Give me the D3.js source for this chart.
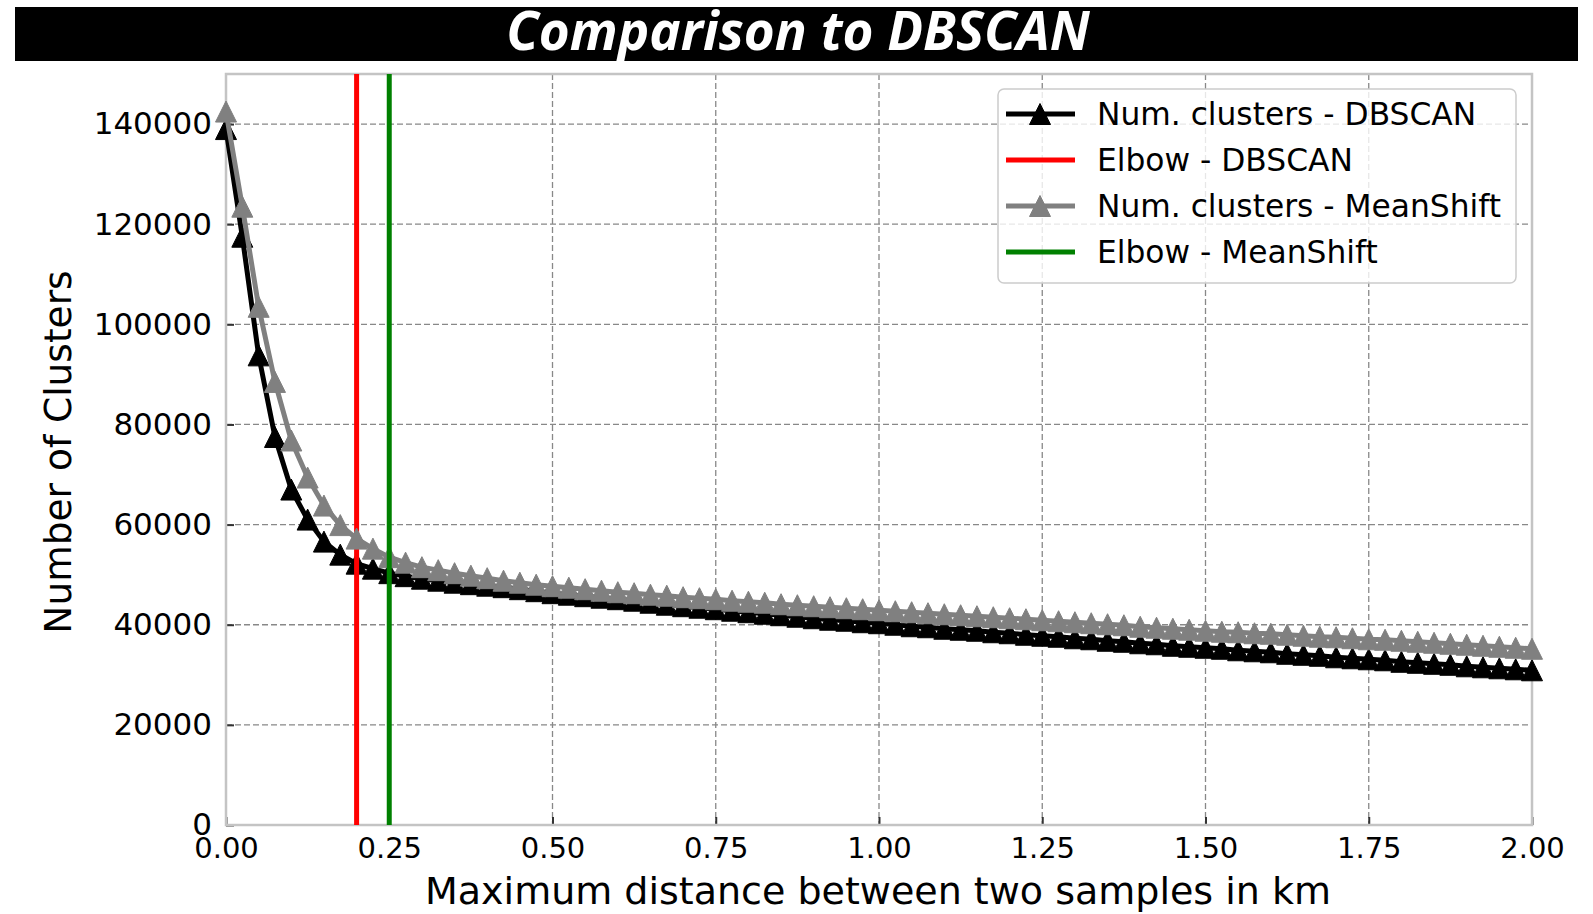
<!DOCTYPE html>
<html>
<head>
<meta charset="utf-8">
<script src="https://cdn.jsdelivr.net/npm/d3@7"></script>
<style>
  body { margin: 0; background: #fff; }
  svg text { font-family: "DejaVu Sans", sans-serif; fill: #000; }
</style>
</head>
<body>
<svg id="canvas" width="1593" height="914"></svg>
<script>
// max distance (km) for each run
const distances = [
    0.000, 0.025, 0.050, 0.075, 0.100, 0.125, 0.150, 0.175, 0.200, 0.225,
    0.250, 0.275, 0.300, 0.325, 0.350, 0.375, 0.400, 0.425, 0.450, 0.475,
    0.500, 0.525, 0.550, 0.575, 0.600, 0.625, 0.650, 0.675, 0.700, 0.725,
    0.750, 0.775, 0.800, 0.825, 0.850, 0.875, 0.900, 0.925, 0.950, 0.975,
    1.000, 1.025, 1.050, 1.075, 1.100, 1.125, 1.150, 1.175, 1.200, 1.225,
    1.250, 1.275, 1.300, 1.325, 1.350, 1.375, 1.400, 1.425, 1.450, 1.475,
    1.500, 1.525, 1.550, 1.575, 1.600, 1.625, 1.650, 1.675, 1.700, 1.725,
    1.750, 1.775, 1.800, 1.825, 1.850, 1.875, 1.900, 1.925, 1.950, 1.975,
    2.000
];

const dbscanClusters = [
    139000, 117500, 93800, 77500, 67000, 61000, 56600, 54000, 52200, 51200,
    50300, 49700, 49200, 48800, 48400, 48100, 47800, 47500, 47100, 46700,
    46300, 46000, 45700, 45400, 45100, 44800, 44400, 44000, 43700, 43400,
    43100, 42800, 42500, 42200, 41900, 41600, 41300, 41000, 40800, 40500,
    40300, 40000, 39700, 39500, 39200, 39000, 38800, 38500, 38300, 38000,
    37800, 37600, 37300, 37100, 36800, 36600, 36300, 36100, 35800, 35600,
    35400, 35200, 34900, 34700, 34500, 34200, 34000, 33800, 33500, 33300,
    33100, 32900, 32600, 32400, 32200, 32000, 31700, 31500, 31300, 31100,
    30900
];

const meanShiftClusters = [
    142500, 123500, 103500, 88500, 76800, 69400, 63800, 59900, 57200, 55200,
    53500, 52400, 51500, 50900, 50300, 49800, 49300, 48800, 48400, 48000,
    47700, 47400, 47100, 46800, 46500, 46300, 46000, 45800, 45500, 45300,
    45100, 44800, 44600, 44400, 44100, 43900, 43700, 43500, 43300, 43100,
    42900, 42700, 42500, 42300, 42100, 41900, 41700, 41500, 41300, 41100,
    40900, 40700, 40500, 40300, 40100, 39900, 39600, 39400, 39200, 39000,
    38800, 38600, 38500, 38300, 38200, 38000, 37800, 37600, 37500, 37300,
    37100, 37000, 36800, 36600, 36400, 36200, 36000, 35800, 35600, 35400,
    35200
];

const elbowDbscan = 0.2;
const elbowMeanShift = 0.25;

const xTicks = [0, 0.25, 0.5, 0.75, 1.0, 1.25, 1.5, 1.75, 2.0];
const yTicks = [0, 20000, 40000, 60000, 80000, 100000, 120000, 140000];

const legendLabels = ['Num. clusters - DBSCAN', 'Elbow - DBSCAN', 'Num. clusters - MeanShift', 'Elbow - MeanShift'];

const margin = { left: 226, right: 1532, top: 74, bottom: 825 };

let canvas = d3.select('#canvas');

const xScale = d3.scaleLinear().domain([0, 2]).range([margin.left, margin.right]);
const yScale = d3.scaleLinear().domain([0, 150000]).range([margin.bottom, margin.top]);

// title bar
canvas.append('rect')
    .attr('x', 15).attr('y', 7)
    .attr('width', 1563).attr('height', 54)
    .attr('fill', '#000');

canvas.append('text')
    .text('Comparison to DBSCAN')
    .attr('x', 798).attr('y', 50)
    .attr('text-anchor', 'middle')
    .style('font-family', '"Open Sans", sans-serif')
    .style('font-weight', 'bold')
    .style('font-style', 'italic')
    .style('font-size', '53px')
    .style('fill', '#fff');

// grid
let grid = canvas.append('g');
grid.selectAll('.gx')
    .data(xTicks.slice(1, -1))
    .enter()
    .append('line')
    .attr('x1', d => xScale(d)).attr('x2', d => xScale(d))
    .attr('y1', margin.top).attr('y2', margin.bottom)
    .attr('stroke', '#888').attr('stroke-width', 1.3)
    .attr('stroke-dasharray', '6,3');
grid.selectAll('.gy')
    .data(yTicks.slice(1))
    .enter()
    .append('line')
    .attr('y1', d => yScale(d)).attr('y2', d => yScale(d))
    .attr('x1', margin.left).attr('x2', margin.right)
    .attr('stroke', '#888').attr('stroke-width', 1.3)
    .attr('stroke-dasharray', '6,3');

// axes (inward ticks)
let xAxis = d3.axisBottom(xScale).tickValues(xTicks).tickSize(-8).tickFormat(d => d.toFixed(2)).tickPadding(12);
let yAxis = d3.axisLeft(yScale).tickValues(yTicks).tickSize(-8).tickFormat(d3.format('d')).tickPadding(14);

let gx = canvas.append('g')
    .attr('transform', 'translate(0,' + margin.bottom + ')')
    .call(xAxis);
let gy = canvas.append('g')
    .attr('transform', 'translate(' + margin.left + ',0)')
    .call(yAxis);

[gx, gy].forEach(g => {
    g.select('.domain').remove();
    g.selectAll('.tick line').attr('stroke', '#333').attr('stroke-width', 2);
    g.selectAll('.tick text')
        .style('font-family', '"DejaVu Sans", sans-serif')
        .attr('fill', '#000');
});
gx.selectAll('.tick text').style('font-size', '29px').attr('dy', '0.71em');
gy.selectAll('.tick text').style('font-size', '31px');

// frame
canvas.append('rect')
    .attr('x', margin.left).attr('y', margin.top)
    .attr('width', margin.right - margin.left)
    .attr('height', margin.bottom - margin.top)
    .attr('fill', 'none')
    .attr('stroke', '#c4c4c4')
    .attr('stroke-width', 2.5);

// axis titles
canvas.append('text')
    .text('Maximum distance between two samples in km')
    .attr('x', 878).attr('y', 904)
    .attr('text-anchor', 'middle')
    .style('font-size', '38px');

canvas.append('text')
    .text('Number of Clusters')
    .attr('transform', 'translate(71,' + 452 + ') rotate(-90)')
    .attr('text-anchor', 'middle')
    .style('font-size', '37.5px');

const triangle = 'M0,-10.5L10.5,10.5L-10.5,10.5Z';

let plot = canvas.append('g');

const drawSeries = (values, color) => {
    let points = distances.map((d, i) => [d, values[i]]);
    let line = d3.line()
        .x(p => xScale(p[0]))
        .y(p => yScale(p[1]));
    plot.append('path')
        .datum(points)
        .attr('d', line)
        .attr('fill', 'none')
        .attr('stroke', color)
        .attr('stroke-width', 5)
        .attr('stroke-linejoin', 'round');
    plot.append('g')
        .selectAll('path')
        .data(points)
        .enter()
        .append('path')
        .attr('d', triangle)
        .attr('transform', p => 'translate(' + xScale(p[0]) + ',' + yScale(p[1]) + ')')
        .attr('fill', color)
        .attr('stroke', color)
        .attr('stroke-width', 1);
};

const drawElbow = (value, color) => {
    plot.append('line')
        .attr('x1', xScale(value)).attr('x2', xScale(value))
        .attr('y1', margin.top).attr('y2', margin.bottom)
        .attr('stroke', color)
        .attr('stroke-width', 5);
};

drawSeries(dbscanClusters, '#000');
drawElbow(elbowDbscan, '#ff0000');
drawSeries(meanShiftClusters, '#808080');
drawElbow(elbowMeanShift, '#008000');

// legend
let legend = canvas.append('g');
legend.append('rect')
    .attr('x', 998).attr('y', 89)
    .attr('width', 518).attr('height', 194)
    .attr('rx', 6)
    .attr('fill', '#fff').attr('fill-opacity', 0.8)
    .attr('stroke', '#ccc').attr('stroke-width', 1.5);

const legendColors = ['#000', '#ff0000', '#808080', '#008000'];
const legendMarker = [true, false, true, false];

legendLabels.forEach((label, i) => {
    let cy = 114 + i * 46;
    legend.append('line')
        .attr('x1', 1006).attr('x2', 1075)
        .attr('y1', cy).attr('y2', cy)
        .attr('stroke', legendColors[i])
        .attr('stroke-width', 5);
    if (legendMarker[i]) {
        legend.append('path')
            .attr('d', triangle)
            .attr('transform', 'translate(1040,' + cy + ')')
            .attr('fill', legendColors[i])
            .attr('stroke', legendColors[i]);
    }
    legend.append('text')
        .text(label)
        .attr('x', 1097).attr('y', cy + 11)
        .style('font-size', '31.3px');
});
</script>
</body>
</html>
